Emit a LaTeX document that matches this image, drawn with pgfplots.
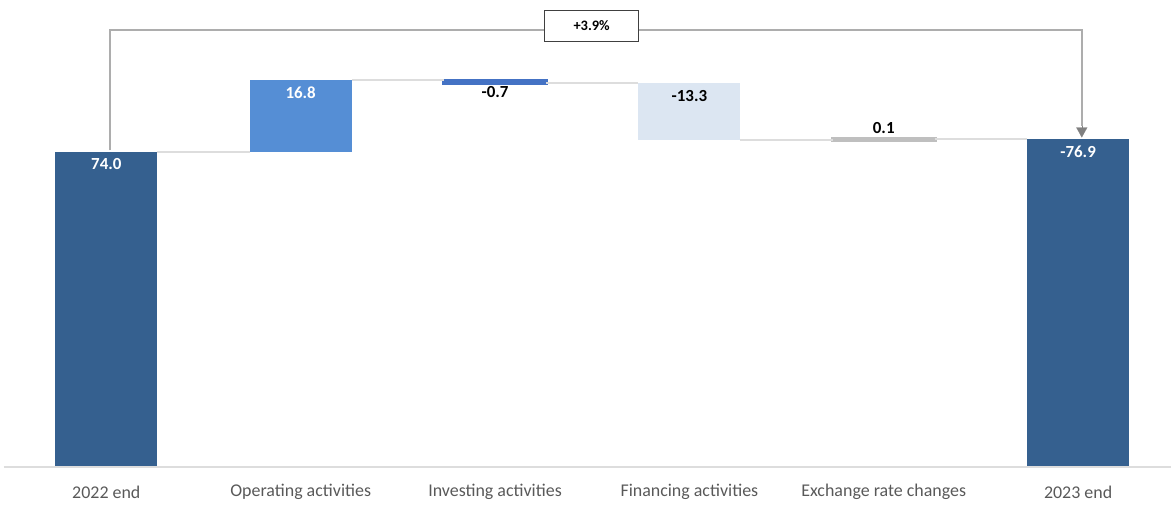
\documentclass[border=0pt]{standalone}
\usepackage{pgfplots}
\pgfplotsset{compat=1.18}
\usepackage{fontspec}
\setmainfont{Carlito}
\usetikzlibrary{arrows.meta}

\definecolor{cEnd}{HTML}{35608F}
\definecolor{cOper}{HTML}{558ED5}
\definecolor{cInv}{HTML}{4472C4}
\definecolor{cFin}{HTML}{DCE6F2}
\definecolor{cFx}{HTML}{BFBFBF}
\definecolor{cConn}{HTML}{DDDDDD}
\definecolor{cBracket}{HTML}{ADADAD}
\definecolor{cArrow}{HTML}{808080}
\definecolor{cCat}{HTML}{595959}

% one shared frame for every layer of the waterfall
\pgfplotsset{
  wf/.style={
    scale only axis,
    width=1171bp, height=504bp,
    xmin=-0.547, xmax=5.478,
    ymin=-8.95, ymax=109.72,
    hide axis, clip=false,
    bar width=102bp,
  },
}

\begin{document}
\begin{tikzpicture}
% each floating bar gets its own stack
\begin{axis}[wf, ybar stacked]% 2022 end
\addplot[draw=none, fill=none] coordinates {(0,0)};
\addplot[draw=none, fill=cEnd] coordinates {(0,74.0)};
\end{axis}
\begin{axis}[wf, ybar stacked]% Operating activities
\addplot[draw=none, fill=none] coordinates {(1,74.0)};
\addplot[draw=none, fill=cOper] coordinates {(1,16.8)};
\end{axis}
\begin{axis}[wf, ybar stacked]% Investing activities
\addplot[draw=none, fill=none] coordinates {(2,90.1)};
\addplot[draw=cInv, line width=3.5bp, fill=cInv] coordinates {(2,0.7)};
\end{axis}
\begin{axis}[wf, ybar stacked]% Financing activities
\addplot[draw=none, fill=none] coordinates {(3,76.8)};
\addplot[draw=none, fill=cFin] coordinates {(3,13.3)};
\end{axis}
\begin{axis}[wf, ybar stacked]% Exchange rate changes
\addplot[draw=none, fill=none] coordinates {(4,76.8)};
\addplot[draw=cFx, line width=4bp, fill=cFx] coordinates {(4,0.1)};
\end{axis}
\begin{axis}[wf, ybar stacked]% 2023 end
\addplot[draw=none, fill=none] coordinates {(5,0)};
\addplot[draw=none, fill=cEnd] coordinates {(5,76.9)};
\end{axis}

\begin{axis}[wf]
% connectors at the running totals (bar edge to bar edge)
\addplot[cConn, line width=2bp, no marks] coordinates {(0.262,74.0) (0.738,74.0)};
\addplot[cConn, line width=2bp, no marks] coordinates {(1.262,90.8) (1.738,90.8)};
\addplot[cConn, line width=2bp, no marks] coordinates {(2.262,90.1) (2.738,90.1)};
\addplot[cConn, line width=2bp, no marks] coordinates {(3.262,76.8) (3.738,76.8)};
\addplot[cConn, line width=2bp, no marks] coordinates {(4.262,76.9) (4.738,76.9)};

% baseline
\draw[cConn, line width=2bp] (axis cs:-0.527,-0.2) -- (axis cs:5.478,-0.2);

% value labels
\begin{scope}[font=\fontsize{17}{20}\selectfont\bfseries]
\node[white] at (axis cs:0,71.2) {74.0};
\node[white] at (axis cs:1,88.0) {16.8};
\node[black] at (axis cs:2,88.0) {-0.7};
\node[black] at (axis cs:3,87.1) {-13.3};
\node[black] at (axis cs:4,79.5) {0.1};
\node[white] at (axis cs:5,74.0) {-76.9};
\end{scope}

% category labels
\begin{scope}[font=\fontsize{18}{20}\selectfont, text=cCat]
\node at (axis cs:0,-6.1) {2022 end};
\node at (axis cs:1,-6.1) {Operating activities};
\node at (axis cs:2,-6.1) {Investing activities};
\node at (axis cs:3,-6.1) {Financing activities};
\node at (axis cs:4,-6.1) {Exchange rate changes};
\node at (axis cs:5,-6.1) {2023 end};
\end{scope}

% overall change bracket
\draw[cBracket, line width=1.6bp]
  (axis cs:0.019,74.3) -- (axis cs:0.019,102.66) -- (axis cs:5.019,102.66)
  -- (axis cs:5.019,80.0);
\draw[cArrow, -{Triangle[width=11bp,length=10bp]}, line width=0.1bp]
  (axis cs:5.019,80.0) -- (axis cs:5.019,77.35);
\node[draw=black!75, line width=0.9bp, fill=white, minimum width=93.6bp,
      minimum height=31.3bp, inner sep=0pt,
      font=\fontsize{14.5}{16}\selectfont\bfseries]
  at (axis cs:2.497,103.67) {+3.9\%};
\end{axis}
% the page is exactly the plotting frame
\pgfresetboundingbox
\useasboundingbox (current axis.south west) rectangle (current axis.north east);
\end{tikzpicture}
\end{document}
